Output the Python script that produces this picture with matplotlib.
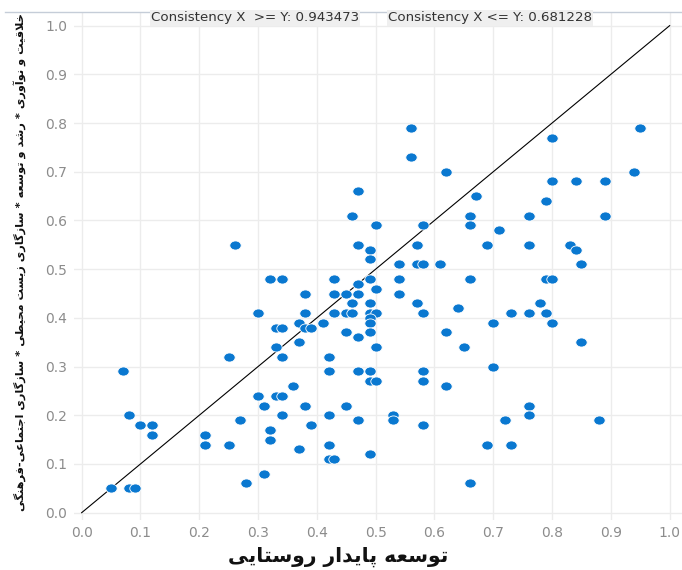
import matplotlib
matplotlib.use("Agg")
import matplotlib.pyplot as plt
from matplotlib.path import Path
from matplotlib.lines import Line2D
from matplotlib import font_manager
import numpy as np

# ---------------- data ----------------
x_vals = [0.26, 0.30, 0.25, 0.07, 0.30, 0.31, 0.08, 0.10, 0.12, 0.12,
          0.27, 0.21, 0.21, 0.25, 0.31, 0.28, 0.05, 0.08, 0.09,
          0.47, 0.49, 0.49, 0.57, 0.54, 0.57, 0.58, 0.61, 0.32, 0.34,
          0.43, 0.49, 0.54, 0.50, 0.47, 0.38, 0.43, 0.45, 0.47, 0.54,
          0.46, 0.49, 0.57, 0.38, 0.43, 0.45, 0.46, 0.49, 0.50, 0.49,
          0.49, 0.49, 0.58, 0.37, 0.41, 0.33, 0.34, 0.38, 0.39, 0.45,
          0.47, 0.62, 0.37, 0.33, 0.50, 0.34, 0.42, 0.42, 0.47, 0.49,
          0.58, 0.49, 0.50, 0.58, 0.62, 0.36, 0.33, 0.34, 0.38, 0.45,
          0.34, 0.42, 0.53, 0.53, 0.47, 0.39, 0.58, 0.32, 0.32, 0.37,
          0.42, 0.49, 0.42, 0.43,
          0.56, 0.56, 0.47, 0.46, 0.50, 0.58,
          0.95, 0.80, 0.62, 0.94, 0.80, 0.84, 0.89, 0.67, 0.79, 0.66,
          0.76, 0.89, 0.66, 0.71, 0.69, 0.76, 0.83, 0.84, 0.85, 0.66,
          0.79, 0.80, 0.78, 0.64, 0.73, 0.76, 0.79, 0.70, 0.80, 0.65,
          0.85, 0.70, 0.76, 0.76, 0.72, 0.88, 0.69, 0.73, 0.66]
y_vals = [0.55, 0.41, 0.32, 0.29, 0.24, 0.22, 0.20, 0.18, 0.18, 0.16,
          0.19, 0.16, 0.14, 0.14, 0.08, 0.06, 0.05, 0.05, 0.05,
          0.55, 0.54, 0.52, 0.55, 0.51, 0.51, 0.51, 0.51, 0.48, 0.48,
          0.48, 0.48, 0.48, 0.46, 0.47, 0.45, 0.45, 0.45, 0.45, 0.45,
          0.43, 0.43, 0.43, 0.41, 0.41, 0.41, 0.41, 0.41, 0.41, 0.40,
          0.39, 0.37, 0.41, 0.39, 0.39, 0.38, 0.38, 0.38, 0.38, 0.37,
          0.36, 0.37, 0.35, 0.34, 0.34, 0.32, 0.32, 0.29, 0.29, 0.29,
          0.29, 0.27, 0.27, 0.27, 0.26, 0.26, 0.24, 0.24, 0.22, 0.22,
          0.20, 0.20, 0.20, 0.19, 0.19, 0.18, 0.18, 0.17, 0.15, 0.13,
          0.14, 0.12, 0.11, 0.11,
          0.79, 0.73, 0.66, 0.61, 0.59, 0.59,
          0.79, 0.77, 0.70, 0.70, 0.68, 0.68, 0.68, 0.65, 0.64, 0.61,
          0.61, 0.61, 0.59, 0.58, 0.55, 0.55, 0.55, 0.54, 0.51, 0.48,
          0.48, 0.48, 0.43, 0.42, 0.41, 0.41, 0.41, 0.39, 0.39, 0.34,
          0.35, 0.30, 0.22, 0.20, 0.19, 0.19, 0.14, 0.14, 0.06]
tick_vals = [0.0, 0.1, 0.2, 0.3, 0.4, 0.5, 0.6, 0.7, 0.8, 0.9, 1.0]
consistency_ge = 0.943473
consistency_le = 0.681228
x_label_raw = "توسعه پایدار روستایی"
y_label_raw = "خلاقیت و نوآوری * رشد و توسعه * سازگاری زیست محیطی * سازگاری اجتماعی-فرهنگی"

# ------------- Arabic / Persian shaping (no external libs) -------------
FORMS = {
    'ا': ('\uFE8D', '\uFE8E', None, None),
    'آ': ('\uFE81', '\uFE82', None, None),
    'ت': ('\uFE95', '\uFE96', '\uFE97', '\uFE98'),
    'ج': ('\uFE9D', '\uFE9E', '\uFE9F', '\uFEA0'),
    'ح': ('\uFEA1', '\uFEA2', '\uFEA3', '\uFEA4'),
    'خ': ('\uFEA5', '\uFEA6', '\uFEA7', '\uFEA8'),
    'د': ('\uFEA9', '\uFEAA', None, None),
    'ر': ('\uFEAD', '\uFEAE', None, None),
    'ز': ('\uFEAF', '\uFEB0', None, None),
    'س': ('\uFEB1', '\uFEB2', '\uFEB3', '\uFEB4'),
    'ش': ('\uFEB5', '\uFEB6', '\uFEB7', '\uFEB8'),
    'ط': ('\uFEC1', '\uFEC2', '\uFEC3', '\uFEC4'),
    'ع': ('\uFEC9', '\uFECA', '\uFECB', '\uFECC'),
    'ف': ('\uFED1', '\uFED2', '\uFED3', '\uFED4'),
    'ق': ('\uFED5', '\uFED6', '\uFED7', '\uFED8'),
    'ل': ('\uFEDD', '\uFEDE', '\uFEDF', '\uFEE0'),
    'م': ('\uFEE1', '\uFEE2', '\uFEE3', '\uFEE4'),
    'ن': ('\uFEE5', '\uFEE6', '\uFEE7', '\uFEE8'),
    'ه': ('\uFEE9', '\uFEEA', '\uFEEB', '\uFEEC'),
    'و': ('\uFEED', '\uFEEE', None, None),
    'پ': ('\uFB56', '\uFB57', '\uFB58', '\uFB59'),
    'گ': ('\uFB92', '\uFB93', '\uFB94', '\uFB95'),
    'ی': ('\uFBFC', '\uFBFD', '\uFBFE', '\uFBFF'),
}
LAMALEF = {'ا': ('\uFEFB', '\uFEFC'), 'آ': ('\uFEF5', '\uFEF6')}


def dual(c):
    return c in FORMS and FORMS[c][2] is not None


def shape(text):
    out = []
    chars = list(text)
    i = 0
    n = len(chars)
    while i < n:
        c = chars[i]
        if c not in FORMS:
            out.append(c)
            i += 1
            continue
        prev_join = i > 0 and dual(chars[i - 1])
        if c == 'ل' and i + 1 < n and chars[i + 1] in LAMALEF:
            iso, fin = LAMALEF[chars[i + 1]]
            out.append(fin if prev_join else iso)
            i += 2
            continue
        next_join = dual(c) and i + 1 < n and chars[i + 1] in FORMS
        iso, fin, ini, med = FORMS[c]
        if prev_join and next_join:
            out.append(med)
        elif prev_join:
            out.append(fin)
        elif next_join:
            out.append(ini)
        else:
            out.append(iso)
        i += 1
    return ''.join(out)[::-1]


installed = {f.name for f in font_manager.fontManager.ttflist}
ylab_family = ['DejaVu Sans Condensed', 'DejaVu Sans'] \
    if 'DejaVu Sans Condensed' in installed else ['DejaVu Sans']

# ---------------- figure ----------------
W, H = 682, 570
fig = plt.figure(figsize=(W / 100, H / 100), dpi=100)
fig.patch.set_facecolor('white')

ax_left, ax_right, ax_top, ax_bottom = 74, 682, 12, 520
ax = fig.add_axes([ax_left / W, 1 - ax_bottom / H,
                   (ax_right - ax_left) / W, (ax_bottom - ax_top) / H])
ax.set_xlim(-0.013, 1.021)
ax.set_ylim(-0.015, 1.028)

for s in ax.spines.values():
    s.set_visible(False)

ax.set_xticks(tick_vals)
ax.set_yticks(tick_vals)
ax.set_xticklabels([f"{t:.1f}" for t in tick_vals])
ax.set_yticklabels([f"{t:.1f}" for t in tick_vals])
ax.tick_params(axis='both', length=0, labelsize=10, labelcolor='#8c8c8c')
ax.tick_params(axis='x', pad=4)
ax.tick_params(axis='y', pad=5)
ax.grid(True, color='#ececec', linewidth=1.0)
ax.set_axisbelow(True)

# diagonal reference line
ax.plot([0, 1], [0, 1], color='black', linewidth=0.8, zorder=2)

# elliptical markers
circ = Path.unit_circle()
ell = Path(circ.vertices * np.array([1.25, 1.0]), circ.codes)
ax.plot(x_vals, y_vals, linestyle='none', marker=ell, markersize=8.2,
        markerfacecolor='#0a78d0', markeredgecolor='white',
        markeredgewidth=0.6, zorder=3)

# consistency labels
box = dict(boxstyle='square,pad=0.08', facecolor='#efefef', edgecolor='none')
fig.text(151 / W, 1 - 18 / H, f"Consistency X  >= Y: {consistency_ge:.6f}",
         ha='left', va='center', fontsize=9.6, color='#333333',
         family='DejaVu Sans', bbox=box)
fig.text(388 / W, 1 - 18 / H, f"Consistency X <= Y: {consistency_le:.6f}",
         ha='left', va='center', fontsize=9.6, color='#333333',
         family='DejaVu Sans', bbox=box)

# top border line
fig.add_artist(Line2D([5 / W, 1.0], [1 - 12 / H, 1 - 12 / H],
                      transform=fig.transFigure, color='#c5cdd8',
                      linewidth=1.0))

# axis labels
xl = fig.text(338 / W, 1 - 557 / H, shape(x_label_raw), ha='center',
              va='center', fontsize=15, fontweight='bold', color='#111111',
              family=['DejaVu Sans'])
yl = fig.text(20 / W, 1 - 262 / H, shape(y_label_raw), ha='center',
              va='center', rotation=90, fontsize=10, fontweight='bold',
              color='#111111', family=ylab_family)

# fit label lengths to the reference extents (pixels)
fig.canvas.draw()
r = fig.canvas.get_renderer()
bx = xl.get_window_extent(r)
xl.set_fontsize(15 * 220.0 / bx.width)
by = yl.get_window_extent(r)
yl.set_fontsize(10 * 498.0 / by.height)

fig.savefig('out.png', dpi=100, facecolor='white')
